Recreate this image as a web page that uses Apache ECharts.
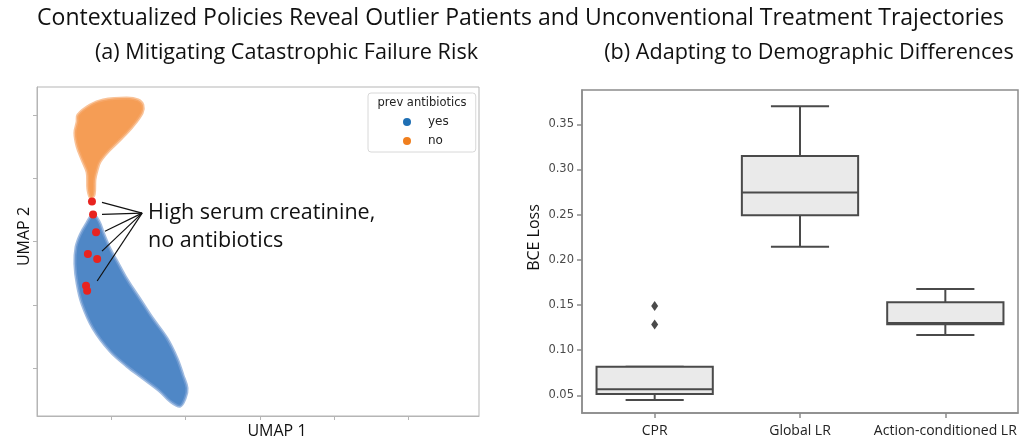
<!DOCTYPE html>
<html><head><meta charset="utf-8">
<script src="https://cdn.jsdelivr.net/npm/echarts@6/dist/echarts.min.js"></script>
<style>html,body{margin:0;padding:0;background:#fff}#c{width:1022px;height:444px}</style>
</head><body><div id="c"></div>
<script>
// ---------- texts ----------
const mainTitle = 'Contextualized Policies Reveal Outlier Patients and Unconventional Treatment Trajectories';
const panelTitles = ['(a) Mitigating Catastrophic Failure Risk', '(b) Adapting to Demographic Differences'];

// ---------- panel (a): UMAP embedding ----------
const umapTicks = [2, 4, 6, 8, 10];
const legendTitle = 'prev antibiotics';
const groupNames = ['yes', 'no'];
// outline of the "no" (orange) point cloud, UMAP coords
const noCloud = [
  [1.08, 9.78], [1.10, 10.00], [1.43, 10.31], [1.78, 10.47], [2.42, 10.53], [2.72, 10.47],
  [2.85, 10.31], [2.83, 10.06], [2.56, 9.62], [2.24, 9.22], [1.91, 8.84], [1.70, 8.53],
  [1.62, 8.27], [1.56, 7.96], [1.54, 7.49], [1.45, 7.37], [1.37, 7.65], [1.35, 8.18],
  [1.21, 8.59], [1.08, 9.00], [1.02, 9.43]
];
// outline of the "yes" (blue) point cloud, UMAP coords
const yesCloud = [
  [1.51, 6.86], [1.67, 6.64], [1.80, 6.24], [1.97, 5.77], [2.15, 5.39], [2.37, 4.92],
  [2.59, 4.51], [2.80, 4.14], [3.12, 3.57], [3.50, 2.95], [3.77, 2.32], [3.93, 1.79],
  [4.04, 1.38], [3.99, 1.06], [3.85, 0.81], [3.58, 0.97], [3.31, 1.28], [2.85, 1.69],
  [2.42, 2.07], [1.97, 2.54], [1.51, 3.26], [1.21, 4.04], [1.08, 4.67], [1.02, 5.30],
  [1.05, 5.83], [1.16, 6.21], [1.32, 6.55]
];
// high serum creatinine, no antibiotics patients
const outlierPatients = [
  [1.48, 7.27], [1.51, 6.86], [1.59, 6.30], [1.37, 5.61], [1.62, 5.45], [1.32, 4.61], [1.35, 4.45]
];
const annotationText = ['High serum creatinine,', 'no antibiotics'];
const annotationAnchor = [2.83, 6.90];
const annotationTargets = [[1.75, 7.24], [1.75, 6.86], [1.83, 6.33], [1.75, 5.70], [1.62, 4.76]];

// ---------- panel (b): BCE loss box plots ----------
const models = ['CPR', 'Global LR', 'Action-conditioned LR'];
// [min, Q1, median, Q3, max]
const boxStats = [
  [0.0448, 0.0514, 0.0566, 0.0816, 0.0816],
  [0.2144, 0.2494, 0.2746, 0.3150, 0.3700],
  [0.1167, 0.1287, 0.1300, 0.1529, 0.1676]
];
const boxOutliers = [[0, 0.149], [0, 0.1285]];
const lossTicks = [0.05, 0.10, 0.15, 0.20, 0.25, 0.30, 0.35];

// ---------- styles ----------
const ORANGE = '#f59d55';
const BLUE = '#4f87c6';
const RED = '#e8231f';
const FONT = 'Open Sans';

const chart = echarts.init(document.getElementById('c'), null, {renderer: 'canvas'});

function cloudRender(points, fill, stroke) {
  return function (params, api) {
    if (params.dataIndex !== 0) return null;
    const pts = points.map(p => api.coord(p));
    return {
      type: 'polygon',
      shape: {points: pts, smooth: 0.35},
      style: {fill: fill, stroke: stroke, lineWidth: 3}
    };
  };
}

const option = {
  animation: false,
  textStyle: {fontFamily: FONT},
  graphic: [
    {type: 'text', x: 520.5, y: 18, style: {text: mainTitle, font: '23px "Open Sans"', fill: '#111', align: 'center', verticalAlign: 'middle'}},
    {type: 'text', x: 286.5, y: 53, style: {text: panelTitles[0], font: '21.6px "Open Sans"', fill: '#111', align: 'center', verticalAlign: 'middle'}},
    {type: 'text', x: 809, y: 53, style: {text: panelTitles[1], font: '21.6px "Open Sans"', fill: '#111', align: 'center', verticalAlign: 'middle'}},
    {type: 'text', x: 422, y: 103, z: 20, style: {text: legendTitle, font: '11.5px "DejaVu Sans"', fill: '#222', align: 'center', verticalAlign: 'middle'}}
  ],
  legend: {
    data: groupNames,
    orient: 'vertical',
    left: 368, top: 93,
    padding: [23, 27, 5, 35],
    itemWidth: 8, itemHeight: 8, itemGap: 7,
    icon: 'circle',
    selectedMode: false,
    backgroundColor: 'rgba(255,255,255,0.9)',
    borderColor: '#d8d8d8', borderWidth: 1, borderRadius: 3,
    textStyle: {fontFamily: 'DejaVu Sans', fontSize: 12, color: '#222', padding: [0, 0, 0, 12]}
  },
  grid: [
    {left: 37, top: 87, width: 442, height: 331, show: true, borderColor: '#b5b5b5', borderWidth: 1, backgroundColor: 'transparent'},
    {left: 582, top: 90, width: 436, height: 323, show: true, borderColor: '#8c8c8c', borderWidth: 1.5, backgroundColor: 'transparent'}
  ],
  xAxis: [
    {
      type: 'value', gridIndex: 0, min: 0, max: 11.9,
      name: 'UMAP 1', nameLocation: 'middle', nameGap: 7,
      nameTextStyle: {fontFamily: FONT, fontSize: 16, color: '#111', padding: [0, 0, 0, 38]},
      axisLine: {show: true, lineStyle: {color: '#b5b5b5'}},
      axisTick: {show: true, length: 4, inside: false, customValues: umapTicks, lineStyle: {color: '#b5b5b5'}},
      axisLabel: {show: false},
      splitLine: {show: false}
    },
    {
      type: 'category', gridIndex: 1, data: models, boundaryGap: true,
      axisLine: {show: true, lineStyle: {color: '#8c8c8c', width: 1.5}},
      axisTick: {show: true, length: 5, alignWithLabel: true, lineStyle: {color: '#8c8c8c', width: 1.5}},
      axisLabel: {fontFamily: FONT, fontSize: 14, color: '#222', margin: 11, interval: 0},
      splitLine: {show: false}
    }
  ],
  yAxis: [
    {
      type: 'value', gridIndex: 0, min: 0.5, max: 10.88,
      name: 'UMAP 2', nameLocation: 'middle', nameGap: 5,
      nameTextStyle: {fontFamily: FONT, fontSize: 16, color: '#111', padding: [0, 0, 0, 30]},
      axisLine: {show: true, lineStyle: {color: '#b5b5b5'}},
      axisTick: {show: true, length: 4, inside: false, customValues: umapTicks, lineStyle: {color: '#b5b5b5'}},
      axisLabel: {show: false},
      splitLine: {show: false}
    },
    {
      type: 'value', gridIndex: 1, min: 0.0304, max: 0.388,
      name: 'BCE Loss', nameLocation: 'middle', nameGap: 40,
      nameTextStyle: {fontFamily: FONT, fontSize: 16, color: '#111', padding: [0, 0, 0, 28]},
      axisLine: {show: true, lineStyle: {color: '#8c8c8c', width: 1.5}},
      axisTick: {show: true, length: 5, customValues: lossTicks, lineStyle: {color: '#8c8c8c', width: 1.5}},
      axisLabel: {customValues: lossTicks, fontFamily: 'DejaVu Sans', fontSize: 11.5, color: '#4a4a4a', margin: 8,
        formatter: v => Number(v).toFixed(2)},
      splitLine: {show: false}
    }
  ],
  series: [
    {
      name: 'no', type: 'custom', xAxisIndex: 0, yAxisIndex: 0,
      itemStyle: {color: '#f07f1e'},
      data: noCloud, encode: {x: 0, y: 1},
      renderItem: cloudRender(noCloud, ORANGE, 'rgba(246,170,110,0.7)'),
      silent: true, z: 2
    },
    {
      name: 'yes', type: 'custom', xAxisIndex: 0, yAxisIndex: 0,
      itemStyle: {color: '#1f6fb4'},
      data: yesCloud, encode: {x: 0, y: 1},
      renderItem: cloudRender(yesCloud, BLUE, 'rgba(120,160,212,0.7)'),
      silent: true, z: 3
    },
    {
      name: 'annotation', type: 'custom', xAxisIndex: 0, yAxisIndex: 0,
      data: annotationTargets, encode: {x: 0, y: 1}, silent: true, z: 6,
      renderItem: function (params, api) {
        const a = api.coord(annotationAnchor);
        const t = api.coord([api.value(0), api.value(1)]);
        const children = [{
          type: 'line', shape: {x1: a[0], y1: a[1], x2: t[0], y2: t[1]},
          style: {stroke: '#111', lineWidth: 1.2}
        }];
        if (params.dataIndex === 0) {
          children.push({
            type: 'text', x: a[0] + 6, y: a[1] - 14,
            style: {text: annotationText.join('\n'), font: '21.5px "Open Sans"', fill: '#111', lineHeight: 28, verticalAlign: 'top'}
          });
        }
        return {type: 'group', children: children};
      }
    },
    {
      name: 'high creatinine', type: 'scatter', xAxisIndex: 0, yAxisIndex: 0,
      data: outlierPatients, symbolSize: 8, itemStyle: {color: RED, opacity: 1}, z: 5, silent: true
    },
    {
      name: 'BCE', type: 'custom', xAxisIndex: 1, yAxisIndex: 1,
      data: boxStats.map((s, i) => [i].concat(s)),
      encode: {x: 0, y: [1, 2, 3, 4, 5]}, silent: true,
      renderItem: function (params, api) {
        const c = api.value(0);
        const p = [1, 2, 3, 4, 5].map(i => api.coord([c, api.value(i)]));
        const band = api.size([1, 0])[0];
        const hw = band * 0.4, cw = band * 0.2;
        const x = p[0][0];
        const ls = {stroke: '#4a4a4a', lineWidth: 2};
        return {type: 'group', children: [
          {type: 'line', shape: {x1: x, y1: p[0][1], x2: x, y2: p[1][1]}, style: ls},
          {type: 'line', shape: {x1: x, y1: p[3][1], x2: x, y2: p[4][1]}, style: ls},
          {type: 'line', shape: {x1: x - cw, y1: p[0][1], x2: x + cw, y2: p[0][1]}, style: ls},
          {type: 'line', shape: {x1: x - cw, y1: p[4][1], x2: x + cw, y2: p[4][1]}, style: ls},
          {type: 'rect', shape: {x: x - hw, y: p[3][1], width: 2 * hw, height: p[1][1] - p[3][1]},
            style: {fill: '#eaeaea', stroke: '#4a4a4a', lineWidth: 2}},
          {type: 'line', shape: {x1: x - hw, y1: p[2][1], x2: x + hw, y2: p[2][1]}, style: ls}
        ]};
      }
    },
    {
      name: 'BCE outliers', type: 'scatter', xAxisIndex: 1, yAxisIndex: 1,
      data: boxOutliers, symbol: 'diamond', symbolSize: [7, 10],
      itemStyle: {color: '#4a4a4a', opacity: 1}, silent: true
    }
  ]
};
chart.setOption(option);
</script>
</body></html>
